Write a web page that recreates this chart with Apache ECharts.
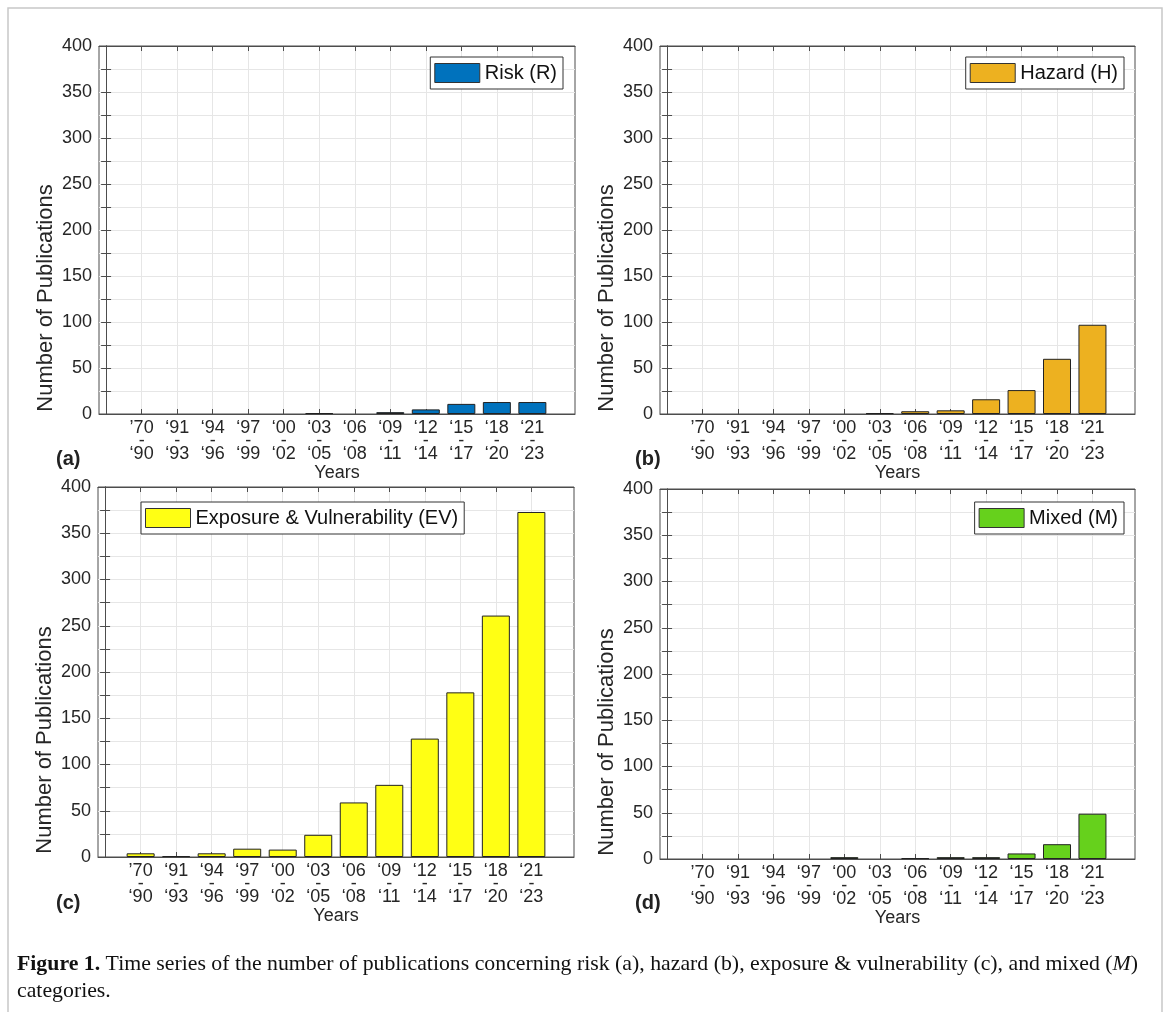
<!DOCTYPE html>
<html><head><meta charset="utf-8">
<script src="https://cdn.jsdelivr.net/npm/echarts@6/dist/echarts.min.js"></script>
<style>html,body{margin:0;padding:0;background:#fff}#c{width:1168px;height:1012px}</style>
</head><body><div id="c"></div>
<script>
// ---- data ----
const periodStart = ['’70','‘91','‘94','‘97','‘00','‘03','‘06','‘09','‘12','‘15','‘18','‘21'];
const periodEnd   = ['‘90','‘93','‘96','‘99','‘02','‘05','‘08','‘11','‘14','‘17','‘20','‘23'];
const categoryPos = [1,2,3,4,5,6,7,8,9,10,11,12];
const riskValues   = [0,0,0,0,0,1,0,2,5,11,13,13];
const hazardValues = [0,0,0,0,0,1,3,4,16,26,60,97];
const evValues     = [4,1,4,9,8,24,59,78,128,178,261,373];
const mixedValues  = [0,0,0,0,2,0,1,2,2,6,16,49];
const seriesNames  = ['Risk (R)','Hazard (H)','Exposure & Vulnerability (EV)','Mixed (M)'];
const panelTags    = ['(a)','(b)','(c)','(d)'];

const FONT = '"Liberation Sans", Arial, sans-serif';
const AX = '#4d4d4d';
const TXT = '#262626';

const panels = [
  {values: riskValues,   color:'#0072BD', grid:{left:99, top:46, width:476, height:368}, legend:{right:605, top:57}, tag:{x:56, y:449}},
  {values: hazardValues, color:'#EDB120', grid:{left:660, top:46, width:475, height:368}, legend:{right:44, top:57}, tag:{x:635, y:449}},
  {values: evValues,     color:'#FFFF14', grid:{left:98, top:487, width:476, height:370}, legend:{left:141, top:502}, tag:{x:56, y:893}},
  {values: mixedValues,  color:'#66D11C', grid:{left:660, top:489, width:475, height:370}, legend:{right:44, top:502}, tag:{x:635, y:893}}
];

const grid = [], xAxis = [], yAxis = [], series = [], legend = [], graphic = [];
panels.forEach((p, i) => {
  grid.push(Object.assign({show:true, borderColor:AX, borderWidth:1, backgroundColor:'#fff'}, p.grid));
  xAxis.push({
    type:'value', gridIndex:i, min:-0.2, max:13.2, position:'bottom',
    name:'Years', nameLocation:'middle', nameGap:50,
    nameTextStyle:{fontFamily:FONT, fontSize:18, color:TXT},
    axisLine:{show:true, onZero:false, lineStyle:{color:AX}},
    axisTick:{show:true, inside:true, length:5, customValues:categoryPos, lineStyle:{color:AX}},
    axisLabel:{show:true, customValues:categoryPos, margin:8, fontFamily:FONT, fontSize:18, color:TXT, lineHeight:13,
      formatter:(v) => { const k = categoryPos.indexOf(Math.round(v)); return k < 0 ? '' : periodStart[k] + '\n-\n' + periodEnd[k]; }},
    splitLine:{show:true, lineStyle:{color:'#e6e6e6', width:1}}
  });
  xAxis.push({
    type:'value', gridIndex:i, min:-0.2, max:13.2, position:'top',
    axisLine:{show:true, onZero:false, lineStyle:{color:AX}},
    axisTick:{show:true, inside:true, length:5, customValues:categoryPos, lineStyle:{color:AX}},
    axisLabel:{show:false}, splitLine:{show:false}
  });
  yAxis.push({
    type:'value', gridIndex:i, min:0, max:400, interval:25, position:'left',
    name:'Number of Publications', nameLocation:'middle', nameGap:42, nameRotate:90,
    nameTextStyle:{fontFamily:FONT, fontSize:22, color:TXT, padding:[0,136,0,0]},
    axisLine:{show:true, lineStyle:{color:AX}},
    axisTick:{show:true, inside:true, length:5, lineStyle:{color:AX}},
    axisLabel:{margin:7, fontFamily:FONT, fontSize:18, color:TXT, formatter:(v) => (v % 50 === 0 ? String(v) : '')},
    splitLine:{show:true, lineStyle:{color:'#e6e6e6', width:1}}
  });
  yAxis.push({
    type:'value', gridIndex:i, min:0, max:400, interval:25, position:'right',
    axisLine:{show:true, lineStyle:{color:AX}},
    axisTick:{show:true, inside:true, length:5, lineStyle:{color:AX}},
    axisLabel:{show:false}, splitLine:{show:false}
  });
  series.push({
    type:'bar', name:seriesNames[i], xAxisIndex:2*i, yAxisIndex:2*i, barWidth:28,
    data: categoryPos.map((x, k) => [x, p.values[k] === 0 ? '-' : p.values[k]]),
    itemStyle:{color:p.color, borderColor:'#222', borderWidth:1},
    emphasis:{disabled:true}, animation:false
  });
  legend.push(Object.assign({
    data:[seriesNames[i]], orient:'horizontal', icon:'rect', itemWidth:45, itemHeight:19, itemGap:0,
    padding:[6,6,6,4], borderColor:'#333', borderWidth:1, backgroundColor:'#fff',
    itemStyle:{borderWidth:1, borderColor:'#333'},
    textStyle:{fontFamily:FONT, fontSize:20, color:'#111'}, selectedMode:false
  }, p.legend));
  graphic.push({type:'text', left:p.tag.x, top:p.tag.y, style:{text:panelTags[i], fontFamily:FONT, fontSize:20, fontWeight:'bold', fill:'#222'}});
});

// figure border
graphic.push({type:'rect', shape:{x:8, y:8, width:1154, height:1020}, style:{fill:'none', stroke:'#c8c8c8', lineWidth:1.5}, z:-1});
// caption
graphic.push({type:'text', left:17, top:951, style:{
  text:'{b|Figure 1.} Time series of the number of publications concerning risk (a), hazard (b), exposure & vulnerability (c), and mixed ({i|M})\ncategories.',
  fontFamily:'"Liberation Serif", "Times New Roman", serif', fontSize:21.8, lineHeight:27, fill:'#111',
  rich:{b:{fontWeight:'bold', fontFamily:'"Liberation Serif", serif', fontSize:21.8, lineHeight:27}, i:{fontStyle:'italic', fontFamily:'"Liberation Serif", serif', fontSize:21.8, lineHeight:27}}
}});

const chart = echarts.init(document.getElementById('c'), null, {renderer:'canvas'});
chart.setOption({backgroundColor:'#fff', animation:false, grid, xAxis, yAxis, series, legend, graphic});
</script></body></html>
